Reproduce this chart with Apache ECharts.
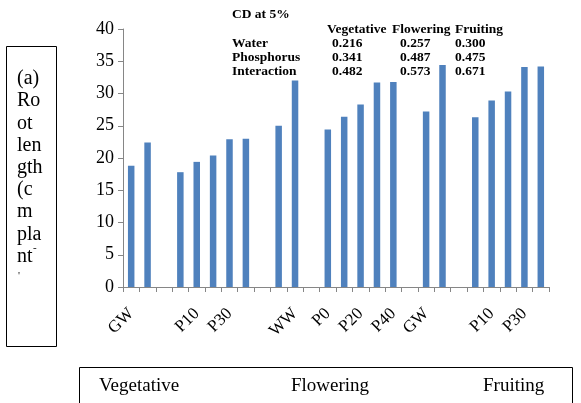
<!DOCTYPE html>
<html><head><meta charset="utf-8">
<script src="https://cdn.jsdelivr.net/npm/echarts@6/dist/echarts.min.js"></script>
<style>html,body{margin:0;padding:0;background:#fff}#c{width:581px;height:403px}</style>
</head><body><div id="c"></div>
<script>
const categories = ['GW','WW','','P0','P10','P20','P30','P40','','GW','WW','','P0','P10','P20','P30','P40','','GW','WW','','P0','P10','P20','P30','P40'];
const rootLength = [18.8,22.4,null,17.8,19.4,20.4,22.9,23.0,null,25.0,32.0,null,24.4,26.4,28.3,31.7,31.8,null,27.2,34.4,null,26.3,28.9,30.3,34.1,34.2];
const yMin = 0, yMax = 40, yStep = 5;
const stages = ['Vegetative','Flowering','Fruiting'];
const yTitleLines = ['(a)','Ro','ot','len','gth','(c','m','pla','nt'];
const cdTitle = 'CD at 5%';
const cdHeader = ['Vegetative','Flowering','Fruiting'];
const cdRows = ['Water','Phosphorus','Interaction'];
const cdVeg = ['0.216','0.341','0.482'];
const cdFlow = ['0.257','0.487','0.573'];
const cdFruit = ['0.300','0.475','0.671'];

const serif = '"Liberation Serif", "Times New Roman", serif';
const graphic = [];
// left text box
graphic.push({type:'rect', shape:{x:6.5,y:46.5,width:50,height:300}, style:{fill:'#fff',stroke:'#000',lineWidth:1}, z:10});
yTitleLines.forEach((t,i)=>{
  graphic.push({type:'text', x:17, y:79+i*22.2, z:11, style:{text:t, font:'20px '+serif, fill:'#000', textVerticalAlign:'middle'}});
});
graphic.push({type:'text', x:33, y:248, z:11, style:{text:'-', font:'11px '+serif, fill:'#000', textVerticalAlign:'middle'}});
graphic.push({type:'text', x:18, y:276, z:11, style:{text:"'", font:'11px '+serif, fill:'#000', textVerticalAlign:'middle'}});
// bottom box
graphic.push({type:'rect', shape:{x:79.5,y:367.5,width:493,height:50}, style:{fill:'#fff',stroke:'#000',lineWidth:1}, z:10});
const stageX = [99, 291, 483];
stages.forEach((s,i)=>{
  graphic.push({type:'text', x:stageX[i], y:386, z:11, style:{text:s, font:'19px '+serif, fill:'#000', textVerticalAlign:'middle'}});
});
// CD table
const cdFont = 'bold 13.5px '+serif;
function cdText(t, x, y){
  graphic.push({type:'text', x:x, y:y, scaleY:0.85, z:11, style:{text:t, font:cdFont, fill:'#000', textVerticalAlign:'middle'}});
}
cdText(cdTitle, 232, 15);
const headX = [327, 392, 455];
cdHeader.forEach((h,i)=>cdText(h, headX[i], 30));
const rowY = [44, 58, 72];
cdRows.forEach((r,i)=>{
  cdText(r, 232, rowY[i]);
  cdText(cdVeg[i], 332, rowY[i]);
  cdText(cdFlow[i], 400, rowY[i]);
  cdText(cdFruit[i], 455, rowY[i]);
});

const chart = echarts.init(document.getElementById('c'), null, {renderer:'canvas'});
chart.setOption({
  animation:false,
  backgroundColor:'#fff',
  grid:{left:123, right:32, top:29, bottom:116},
  xAxis:{
    type:'category', data:categories, boundaryGap:true,
    axisLine:{lineStyle:{color:'#868686', width:1}},
    axisTick:{show:true, interval:0, length:5, lineStyle:{color:'#868686'}},
    axisLabel:{interval:1, rotate:45, margin:24, color:'#000', fontFamily:'"Liberation Serif", serif', fontSize:17}
  },
  yAxis:{
    type:'value', min:yMin, max:yMax, interval:yStep,
    splitLine:{show:false},
    axisLine:{show:true, lineStyle:{color:'#868686', width:1}},
    axisTick:{show:true, length:5, lineStyle:{color:'#868686'}},
    axisLabel:{color:'#000', fontFamily:'"Liberation Serif", serif', fontSize:18, margin:9}
  },
  series:[{type:'bar', data:rootLength, barWidth:6.5, itemStyle:{color:'#4F81BD'}}],
  graphic: graphic
});
</script></body></html>
